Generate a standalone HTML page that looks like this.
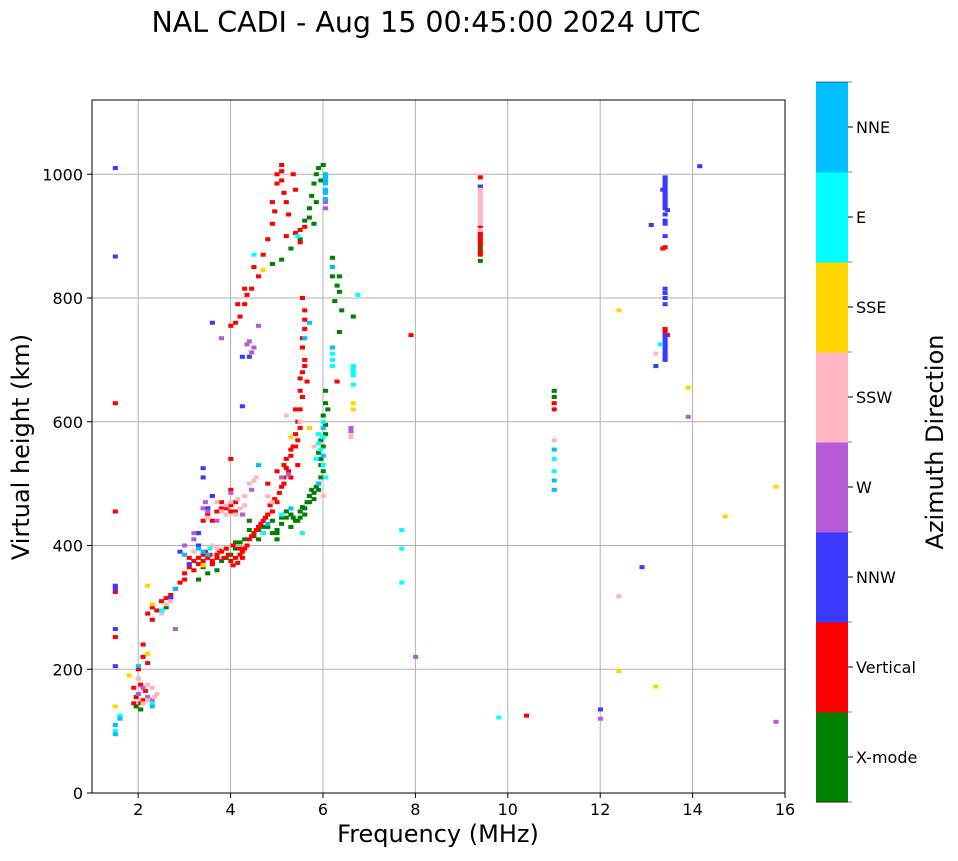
<!DOCTYPE html>
<html><head><meta charset="utf-8"><style>
body{margin:0;background:#fff;font-family:"DejaVu Sans",sans-serif}
</style></head><body>
<svg id="chart" width="958" height="857" xmlns="http://www.w3.org/2000/svg" font-family="DejaVu Sans, sans-serif">
<text x="426" y="32" font-size="28.5" text-anchor="middle">NAL CADI - Aug 15 00:45:00 2024 UTC</text>
<g id="grid"></g>
<g id="marks"></g>
<rect x="92" y="100" width="693" height="693" fill="none" stroke="#000" stroke-width="1"/>
<g id="axes"></g>
<text x="438" y="842" font-size="24" text-anchor="middle">Frequency (MHz)</text>
<text transform="translate(29,447) rotate(-90)" font-size="24" text-anchor="middle">Virtual height (km)</text>
<g id="cbar"></g>
<text transform="translate(943,442) rotate(-90)" font-size="24" text-anchor="middle">Azimuth Direction</text>
</svg>
<script>
const xTicks=[2,4,6,8,10,12,14,16];
const yTicks=[0,200,400,600,800,1000];
const dirNames=["X-mode","Vertical","NNW","W","SSW","SSE","E","NNE"];
const dirColors=["#008000","#ff0000","#3a3aff","#b65ad6","#ffb6c1","#ffd700","#00ffff","#00bfff"];
const xmode=[[1.95,140],[2.05,135],[3.3,345],[3.5,355],[3.6,370],[3.9,380],[4.1,395],[4.1,405],[4.3,410],[4.5,415],[4.6,425],[4.7,420],[4.8,430],[4.9,440],[5.0,425],[5.1,435],[5.2,445],[5.3,450],[5.4,440],[5.5,455],[5.6,460],[5.65,470],[5.7,480],[5.75,490],[5.8,485],[5.9,500],[5.95,510],[6.0,520],[5.95,540],[6.0,560],[6.05,580],[6.0,610],[6.1,620],[6.05,650],[5.0,420],[4.4,440],[3.7,360],[2.6,300],[4.9,855],[5.1,862],[5.3,880],[5.5,895],[5.6,925],[5.7,945],[5.75,965],[5.8,985],[5.85,1000],[5.9,1010],[6.2,865],[6.2,850],[6.35,835],[6.35,810],[6.25,795],[6.35,745],[6.4,780],[6.65,770],[9.4,860],[9.4,880],[9.4,980],[11.0,650],[11.0,640],[5.45,440],[4.0,385],
[5.3,430],[5.35,445],[5.5,445],[5.55,462],[5.6,450],[5.7,470],[5.8,475],[5.85,495],[5.9,490],[5.95,530],[5.9,550],[5.95,570],[6.05,595],[6.05,630],[4.7,430],[4.9,420],[5.1,445],[5.2,455],[4.2,405],[4.4,425],[3.8,375],[3.9,395],[3.4,365],[5.8,920],[5.85,955],[5.7,930],[5.95,990],[6.0,1015],[5.0,410],[4.6,410],[6.2,835],[6.3,820]];
const vertical=[[1.5,630],[1.5,455],[1.5,325],[1.5,252],[1.9,145],[2.0,160],[2.05,175],[2.1,150],[2.0,200],[2.1,220],[2.1,240],[2.2,290],[2.3,300],[2.5,310],[2.7,320],[2.9,340],[3.0,355],[3.1,365],[3.2,375],[3.3,380],[3.4,385],[3.5,380],[3.6,375],[3.7,385],[3.8,390],[3.9,395],[4.0,375],[4.1,380],[4.2,385],[4.3,395],[4.4,410],[4.5,420],[4.6,430],[4.7,440],[4.8,450],[4.9,455],[5.0,470],[5.1,495],[5.15,510],[5.2,525],[5.3,545],[5.35,560],[5.4,580],[5.45,600],[5.5,620],[5.5,650],[5.55,680],[5.6,700],[5.55,720],[5.6,750],[5.6,780],[5.55,800],[3.5,460],[3.8,470],[4.0,490],[4.0,540],[4.0,455],[3.9,460],[3.6,440],[4.2,770],[4.15,790],[4.3,815],[4.35,805],[4.1,760],[4.0,755],[4.5,850],[4.8,895],[4.9,920],[4.9,955],[5.0,985],[5.1,1005],[5.1,1015],[5.35,1000],[5.4,975],[5.6,915],[5.5,890],[5.2,900],[6.3,665],[7.9,740],[9.4,870],[9.4,890],[9.4,900],[9.4,995],[11.0,630],[11.0,620],[10.4,125],[13.4,882],[13.4,750],
[1.95,155],[2.05,145],[2.15,165],[2.0,185],[1.9,170],[2.2,210],[2.3,280],[2.4,295],[2.6,315],[2.8,330],[3.0,345],[3.1,380],[3.2,360],[3.3,370],[3.4,375],[3.45,390],[3.55,385],[3.6,370],[3.7,380],[3.75,392],[3.85,380],[3.95,385],[4.05,368],[4.15,372],[4.25,390],[4.35,400],[4.45,415],[4.55,425],[4.65,435],[4.75,445],[4.85,465],[4.95,475],[5.05,485],[5.15,530],[5.25,520],[5.3,555],[5.4,560],[5.45,570],[5.5,590],[5.55,640],[5.5,670],[5.6,690],[5.55,735],[5.6,765],[5.65,665],[3.5,450],[3.7,455],[3.8,460],[4.0,465],[4.1,470],[4.1,455],[3.4,440],[3.3,420],[4.2,395],[4.05,400],[4.25,380],[5.0,1000],[5.1,990],[5.15,970],[5.2,955],[4.95,940],[5.25,935],[5.5,910],[5.4,905],[4.45,815],[4.3,790],[4.6,835],[4.7,870],[5.2,540],[5.15,500],[5.0,520],[4.8,500],[5.4,620],[5.45,530],[5.3,510],[9.4,875],[9.4,885],[9.4,895],[9.4,905],[9.4,915],[13.35,880],[13.4,745],[13.45,740]];
const nnw=[[1.5,1010],[1.5,867],[1.5,335],[1.5,265],[1.5,205],[2.9,390],[3.4,510],[3.4,525],[3.6,760],[4.25,705],[4.25,625],[4.4,705],[3.3,420],[3.1,370],[12.9,365],[13.2,690],[13.1,918],[13.4,700],[13.4,710],[13.4,730],[13.4,740],[13.4,790],[13.4,800],[13.4,815],[13.4,900],[13.4,920],[13.4,935],[13.4,950],[13.4,960],[13.4,975],[13.4,990],[14.15,1013],[12.0,135],[9.4,980],
[13.4,945],[13.4,955],[13.4,965],[13.4,970],[13.4,980],[13.4,985],[13.4,995],[13.45,942],[13.35,975],[13.4,705],[13.4,715],[13.4,720],[13.4,725],[13.4,735],[13.4,808],[13.4,925],[3.5,460],[3.3,400],[1.5,330],[3.6,480],[2.7,315]];
const w=[[3.2,410],[3.4,460],[4.0,485],[4.4,730],[4.5,720],[4.6,755],[3.8,735],[6.05,945],[6.05,955],[6.6,585],[8.0,220],[13.9,608],[15.8,115],[12.0,120],[2.8,265],[2.1,170],[5.1,510],[3.0,400],
[4.35,725],[4.45,712],[2.0,160],[2.2,155],[3.2,420],[3.45,470],[3.5,455],[3.7,440],[4.25,450],[5.25,515],[4.45,490],[6.6,590],[2.3,150],[5.7,590]];
const ssw=[[2.2,150],[2.3,170],[2.4,160],[2.5,290],[2.6,305],[3.2,390],[3.6,400],[3.7,470],[3.9,450],[4.0,470],[4.2,460],[4.3,480],[4.4,500],[4.5,505],[4.8,480],[5.5,600],[5.8,560],[6.6,578],[9.4,910],[9.4,920],[9.4,930],[9.4,945],[9.4,960],[9.4,970],[11.0,570],[12.4,318],[13.2,710],[2.0,185],[6.0,480],
[9.4,935],[9.4,940],[9.4,950],[9.4,955],[9.4,965],[9.4,975],[9.4,925],[2.1,145],[2.2,175],[2.35,155],[3.8,455],[3.9,465],[4.1,450],[4.15,475],[4.3,465],[4.55,510],[3.5,445],[3.7,395],[2.7,310],[5.2,610],[4.9,470],[6.6,575]];
const sse=[[1.5,140],[2.2,335],[2.3,305],[4.7,845],[6.65,630],[12.4,780],[12.4,197],[13.2,172],[13.9,655],[14.7,447],[15.8,495],[1.8,190],[5.7,590],[2.2,225],[3.4,368],[6.65,620],[5.3,575]];
const e=[[1.5,100],[1.6,125],[6.0,600],[6.2,700],[6.2,690],[6.65,680],[6.65,690],[6.65,660],[6.75,805],[7.7,425],[7.7,395],[7.7,340],[9.8,122],[11.0,540],[11.0,520],[4.5,870],[5.45,900],[5.9,580],[6.0,530],[6.05,510],[2.5,295],[13.3,725],
[5.9,565],[5.85,540],[5.95,555],[6.0,575],[6.65,685],[6.65,675],[5.55,420],[3.55,395],[4.7,420],[5.1,450],[2.3,145],[6.2,710]];
const nne=[[1.5,95],[1.6,120],[2.0,205],[2.8,330],[4.6,530],[6.05,1000],[6.05,990],[6.05,975],[6.05,960],[6.2,720],[6.2,850],[6.0,590],[11.0,555],[11.0,505],[11.0,490],[5.9,500],[3.3,395],[3.0,385],
[6.05,985],[6.05,970],[6.05,995],[6.0,545],[5.3,460],[4.8,435],[3.5,385],[3.4,390],[2.3,140],[1.5,110],[5.7,760],[5.6,735]];
const series=[xmode,vertical,nnw,w,ssw,sse,e,nne];

const NS="http://www.w3.org/2000/svg";
const X0=92,X1=785,Y0=793,Y1=100,FMIN=1,FMAX=16,HMIN=0,HMAX=1120;
function xs(f){return X0+(f-FMIN)/(FMAX-FMIN)*(X1-X0);}
function ys(h){return Y0-(h-HMIN)/(HMAX-HMIN)*(Y0-Y1);}
function mk(t,a,p){const el=document.createElementNS(NS,t);for(const k in a)el.setAttribute(k,a[k]);p.appendChild(el);return el;}
const grid=document.getElementById('grid'),axes=document.getElementById('axes'),marks=document.getElementById('marks'),cbar=document.getElementById('cbar');
xTicks.forEach(t=>{const x=xs(t);
 const g=mk('line',{x1:x,x2:x,y1:Y1,y2:Y0,stroke:'#b0b0b0','stroke-width':1},grid);
 
 mk('line',{x1:x,x2:x,y1:Y0,y2:Y0+5,stroke:'#000'},axes);
 const tx=mk('text',{x:x,y:Y0+22,'font-size':16,'text-anchor':'middle'},axes);tx.textContent=t;
 });
yTicks.forEach(t=>{const y=ys(t);
 const g=mk('line',{x1:X0,x2:X1,y1:y,y2:y,stroke:'#b0b0b0','stroke-width':1},grid);
 
 mk('line',{x1:X0-5,x2:X0,y1:y,y2:y,stroke:'#000'},axes);
 const tx=mk('text',{x:X0-9,y:y+6,'font-size':16,'text-anchor':'end'},axes);tx.textContent=t;
 });
series.forEach((pts,i)=>{pts.forEach(p=>{
 const r=mk('rect',{x:xs(p[0]-0.05),y:ys(p[1])-2,width:xs(0.11+FMIN)-X0,height:4,fill:dirColors[i]},marks);
 
 });});
const CX=816,CW=32,CT=82,CB=802,seg=(CB-CT)/dirNames.length;
dirNames.forEach((n,i)=>{const y=CB-(i+1)*seg;
 const r=mk('rect',{x:CX,y:y,width:CW,height:seg+0.5,fill:dirColors[i]},cbar);
 
 mk('line',{x1:CX+CW,x2:CX+CW+5,y1:y+seg/2,y2:y+seg/2,stroke:'#000'},cbar);
 mk('line',{x1:CX,x2:CX+CW+4,y1:y,y2:y,stroke:'#000','stroke-width':0.6},cbar);
 const tx=mk('text',{x:CX+CW+8,y:y+seg/2+6,'font-size':16},cbar);tx.textContent=n;
 });
mk('line',{x1:CX,x2:CX+CW+4,y1:CB,y2:CB,stroke:'#000','stroke-width':0.6},cbar);
</script>
</body></html>
